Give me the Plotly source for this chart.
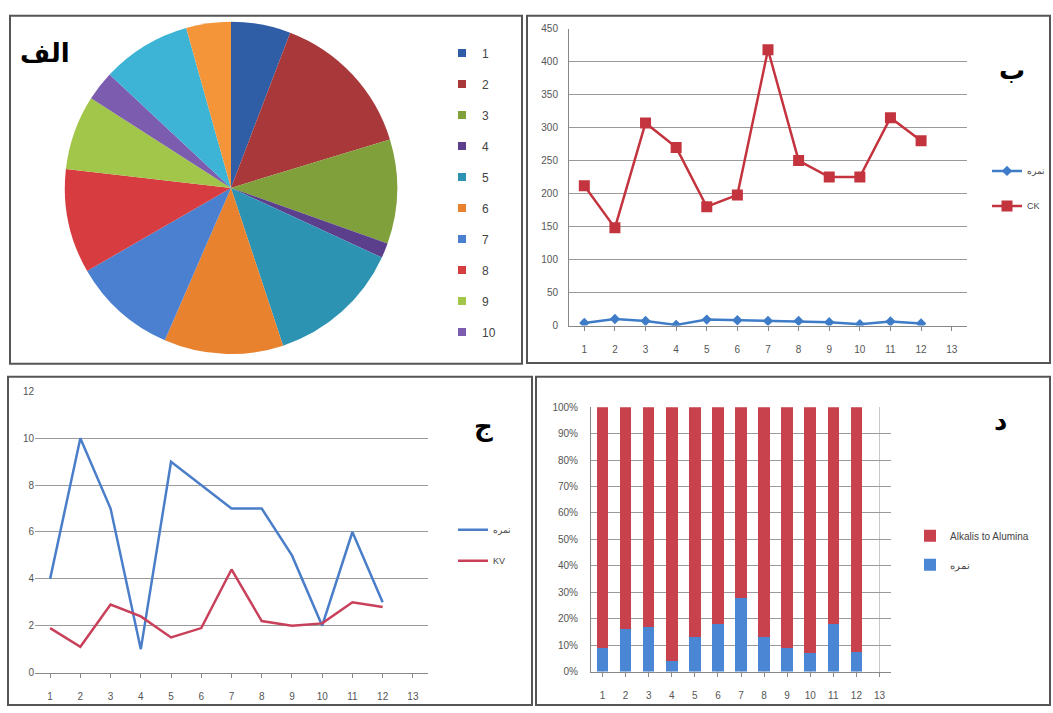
import plotly.graph_objects as go

W, H = 1053, 713

# ---------------- data ----------------
samples = [1, 2, 3, 4, 5, 6, 7, 8, 9, 10, 11, 12]
axis_cats = [str(i) for i in range(1, 14)]
score = [4, 10, 7, 1, 9, 8, 7, 7, 5, 2, 6, 3]            # نمره
ck = [212, 148, 307, 270, 180, 198, 418, 250, 225, 225, 315, 280]
kv = [1.9, 1.1, 2.9, 2.4, 1.5, 1.9, 4.4, 2.2, 2.0, 2.1, 3.0, 2.8]
score_pct = [9, 16, 17, 4, 13, 18, 28, 13, 9, 7, 18, 7.5]
alkali_pct = [100 - p for p in score_pct]
pie_legend_labels = ["1", "2", "3", "4", "5", "6", "7", "8", "9", "10"]

pie_colors = ["#2F5DA6", "#A8383A", "#7FA03A", "#5B3F8C", "#2C93B2", "#E8822E",
              "#4A80CF", "#D63C40", "#A2C64A", "#7B5CAE", "#3DB3D6", "#F4953A"]
BLUE = "#3F7CC8"
RED = "#C3343E"
GRID = "#9a9a9a"
TICKC = "#555555"


def px_x(v):
    return v / W


def px_y(v):
    return 1 - v / H


fig = go.Figure()

# ---------------- panel الف : pie ----------------
fig.add_trace(go.Pie(
    values=score, labels=[str(s) for s in samples], sort=False,
    direction="clockwise", rotation=0,
    marker=dict(colors=pie_colors, line=dict(width=0)),
    textinfo="none", showlegend=False,
    domain=dict(x=[px_x(62), px_x(400)], y=[px_y(354), px_y(16)]),
))
for i, lab in enumerate(pie_legend_labels):
    fig.add_trace(go.Scatter(
        x=[None], y=[None], mode="markers", name=lab,
        marker=dict(symbol="square", size=8, color=pie_colors[i]),
        xaxis="x4", yaxis="y4", legend="legend", legendgroup="p" + lab,
    ))

# ---------------- panel ب ----------------
fig.add_trace(go.Scatter(
    x=[str(s) for s in samples], y=score, name="نمره", mode="lines+markers",
    line=dict(color=BLUE, width=2.5), marker=dict(symbol="diamond", size=8, color=BLUE),
    xaxis="x", yaxis="y", legend="legend2", legendgroup="b1",
))
fig.add_trace(go.Scatter(
    x=[str(s) for s in samples], y=ck, name="CK", mode="lines+markers",
    line=dict(color=RED, width=2.5), marker=dict(symbol="square", size=11, color=RED),
    xaxis="x", yaxis="y", legend="legend2", legendgroup="b2",
))

# ---------------- panel ج ----------------
fig.add_trace(go.Scatter(
    x=[str(s) for s in samples], y=score, name="نمره", mode="lines",
    line=dict(color="#4A7EC8", width=2.5),
    xaxis="x2", yaxis="y2", legend="legend3", legendgroup="c1",
))
fig.add_trace(go.Scatter(
    x=[str(s) for s in samples], y=kv, name="KV", mode="lines",
    line=dict(color="#C8405A", width=2.5),
    xaxis="x2", yaxis="y2", legend="legend3", legendgroup="c2",
))

# ---------------- panel د ----------------
fig.add_trace(go.Bar(
    x=[str(s) for s in samples], y=score_pct, name="نمره",
    marker=dict(color="#4A86D4", line=dict(width=0)), width=0.5,
    xaxis="x3", yaxis="y3", legend="legend4", legendgroup="d2", legendrank=2,
))
fig.add_trace(go.Bar(
    x=[str(s) for s in samples], y=alkali_pct, name="Alkalis to Alumina",
    marker=dict(color="#C8424E", line=dict(width=0)), width=0.5,
    xaxis="x3", yaxis="y3", legend="legend4", legendgroup="d1", legendrank=1,
))

tickfont = dict(family="Liberation Sans, Arial", size=10, color=TICKC)

common_x = dict(type="category", categoryorder="array", categoryarray=axis_cats,
                range=[-0.5, 12.5], showgrid=False, tickfont=tickfont,
                showline=True, linecolor="#888888", ticks="outside", ticklen=4,
                tickcolor="#888888", zeroline=False, fixedrange=True,
                ticklabelstandoff=10)

fig.update_layout(
    width=W, height=H, margin=dict(l=0, r=0, t=0, b=0),
    paper_bgcolor="white", plot_bgcolor="white",
    barmode="stack", bargap=0.5,
    font=dict(family="Liberation Sans, Arial", color="#333333"),
    xaxis=dict(common_x, domain=[px_x(569), px_x(967)], anchor="y"),
    yaxis=dict(domain=[px_y(325), px_y(23)], range=[0, 450], dtick=50, anchor="x",
               showgrid=True, gridcolor=GRID, gridwidth=1.2, tickfont=tickfont,
               showline=True, linecolor="#888888", zeroline=False, ticklabelstandoff=8),
    xaxis2=dict(common_x, domain=[px_x(35), px_x(428)], anchor="y2"),
    yaxis2=dict(domain=[px_y(678), px_y(392)], range=[0, 12], dtick=2, anchor="x2",
                showgrid=True, gridcolor=GRID, gridwidth=1.2, tickfont=tickfont,
                showline=False, zeroline=False),
    xaxis3=dict(common_x, domain=[px_x(591), px_x(891)], anchor="y3", showgrid=True,
                gridcolor="#c8c8c8"),
    yaxis3=dict(domain=[px_y(677), px_y(408)], range=[0, 100], dtick=10, anchor="x3",
                ticksuffix="%", showgrid=True, gridcolor=GRID, gridwidth=1.2,
                tickfont=tickfont, showline=True, linecolor="#888888", zeroline=False,
                ticklabelstandoff=10),
    xaxis4=dict(visible=False, domain=[0, 0.01], anchor="y4"),
    yaxis4=dict(visible=False, domain=[0, 0.01], anchor="x4"),
    legend=dict(x=px_x(442), y=px_y(33), xanchor="left", yanchor="top",
                bgcolor="rgba(0,0,0,0)", font=dict(size=12, color="#444"),
                traceorder="grouped", tracegroupgap=12, itemwidth=30),
    legend2=dict(x=px_x(987), y=px_y(153), xanchor="left", yanchor="top",
                 bgcolor="rgba(0,0,0,0)", font=dict(size=9, color="#444"),
                 traceorder="grouped", tracegroupgap=16, itemwidth=30),
    legend3=dict(x=px_x(453), y=px_y(518), xanchor="left", yanchor="top",
                 bgcolor="rgba(0,0,0,0)", font=dict(size=9, color="#444"),
                 traceorder="grouped", tracegroupgap=12, itemwidth=30),
    legend4=dict(x=px_x(910), y=px_y(524), xanchor="left", yanchor="top",
                 bgcolor="rgba(0,0,0,0)", font=dict(size=10, color="#444"),
                 traceorder="grouped", tracegroupgap=10, itemwidth=30),
)

# panel borders
boxes = [(10, 10, 522, 364), (527, 10, 1050, 363), (8, 377, 532, 711), (536, 377, 1050, 711)]
for x0, y0, x1, y1 in boxes:
    fig.add_shape(type="rect", xref="paper", yref="paper",
                  x0=px_x(x0), x1=px_x(x1), y0=px_y(y1), y1=px_y(y0),
                  line=dict(color="#555555", width=2))

# panel labels
labels = [("الف", 45, 48), ("ب", 1012, 65), ("ج", 483, 428), ("د", 1000, 422)]
for t, x, y in labels:
    fig.add_annotation(text="<b>" + t + "</b>", x=px_x(x), y=px_y(y), xref="paper", yref="paper",
                       xanchor="center", yanchor="middle",
                       showarrow=False, font=dict(size=26, color="black",
                                                  family="DejaVu Sans"))

fig.write_html("out.html", config={"displayModeBar": False})

# remove the browser's default page margin so the figure sits at the window origin
with open("out.html", "r", encoding="utf-8") as f:
    html = f.read()
html = html.replace("<body>", '<body style="margin:0;overflow:hidden">', 1)
with open("out.html", "w", encoding="utf-8") as f:
    f.write(html)
